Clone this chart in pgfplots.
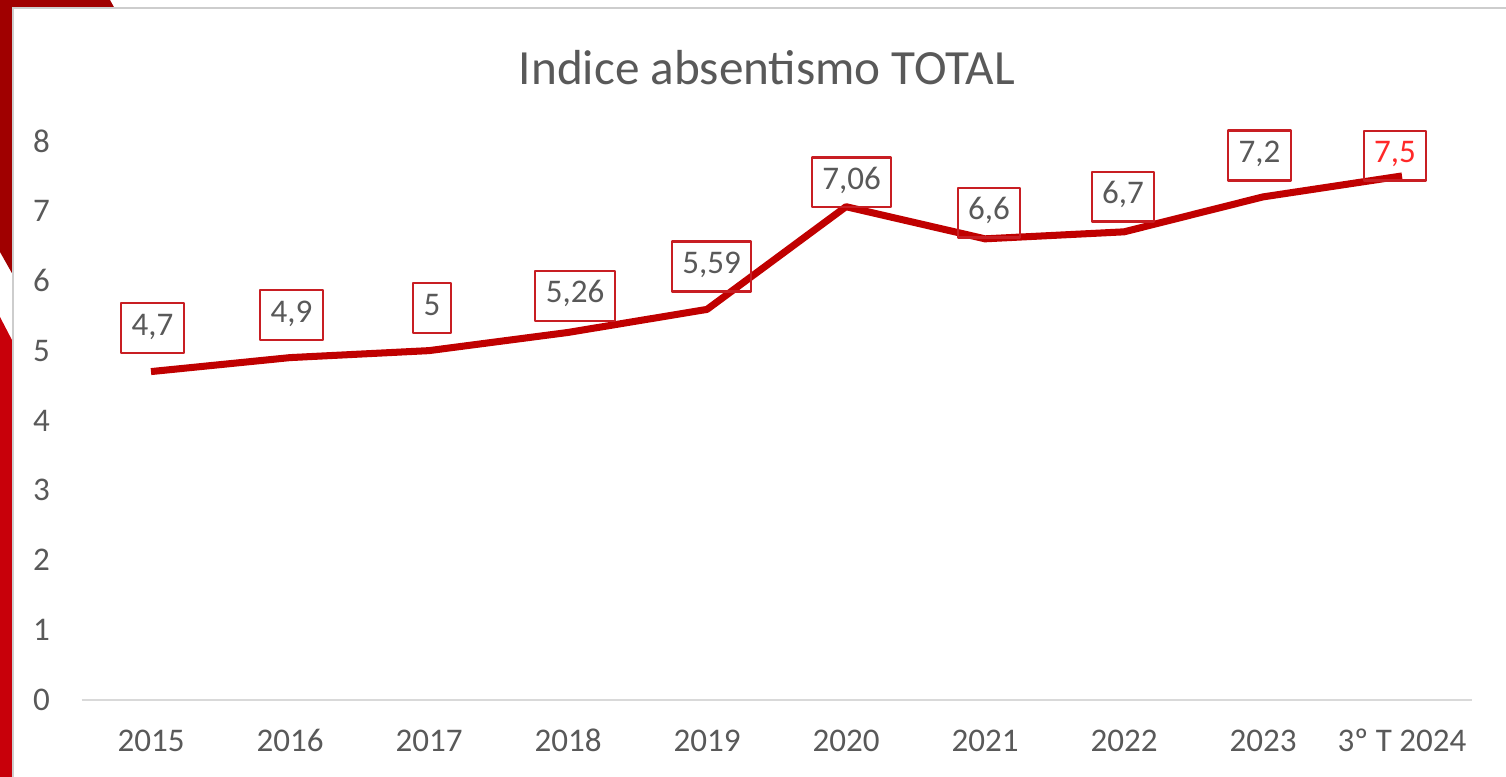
\documentclass[border=0pt]{standalone}
\usepackage{fontspec}
\setmainfont{Carlito}
\usepackage{pgfplots}
\usepackage{pgfplotstable}
\pgfplotsset{compat=1.18}

\definecolor{slidedark}{RGB}{160,0,0}
\definecolor{slidered}{RGB}{200,0,10}
\definecolor{cardgray}{RGB}{205,205,205}
\definecolor{axisgray}{RGB}{217,217,217}
\definecolor{labgray}{RGB}{89,89,89}
\definecolor{labred}{RGB}{255,40,40}
\definecolor{linered}{RGB}{192,0,0}
\definecolor{boxred}{RGB}{200,30,35}

% label offsets (cm) are relative to each point
\pgfplotstableread{
x y lab dx dy
0 4.70 4,7 0.015 0.436
1 4.90 4,9 0.015 0.426
2 5.00 5 0.03 0.426
3 5.26 5,26 0.07 0.365
4 5.59 5,59 0.045 0.429
5 7.06 7,06 0.055 0.242
6 6.60 6,6 0.04 0.263
7 6.70 6,7 -0.01 0.353
8 7.20 7,2 -0.035 0.414
9 7.50 {\textcolor{labred}{7,5}} -0.07 0.204
}\datatable

\begin{document}
\begin{tikzpicture}
\path[use as bounding box] (0,0) rectangle (15.06,7.77);
% slide background
\fill[slidedark] (0,7.77) -- (1.10,7.77) -- (1.15,7.68) -- (0.13,7.68) -- (0.13,5.02) -- (0,5.25) -- cycle;
\fill[slidered] (0,4.60) -- (0.13,4.35) -- (0.13,0) -- (0,0) -- cycle;
\fill[white] (0.13,0) rectangle (15.06,7.69);
\draw[cardgray, line width=0.6pt] (0.13,0) -- (0.13,7.69) -- (15.06,7.69);

\node[anchor=base, font=\fontsize{14}{16}\selectfont, text=labgray] at (7.67,6.92) {Indice absentismo TOTAL};

\begin{axis}[
  at={(0.815cm,0.77cm)}, anchor=south west,
  scale only axis, width=13.9cm, height=5.59cm,
  xmin=-0.5, xmax=9.5, ymin=0, ymax=8,
  xtick={0,...,9},
  xticklabels={2015,2016,2017,2018,2019,2020,2021,2022,2023,3º T 2024},
  ytick={0,...,8},
  axis x line*=bottom, axis y line*=left,
  x axis line style={draw=axisgray, line width=0.8pt, -},
  y axis line style={draw=none},
  major tick length=0pt,
  tick label style={font=\fontsize{9.4}{11}\selectfont, text=labgray},
  /pgf/number format/assume math mode=true,
  xticklabel style={anchor=north, inner sep=0pt, yshift=-0.3cm, text height=6pt},
  yticklabel style={anchor=east, inner sep=0pt, xshift=-0.31cm},
  clip=false,
]
\addplot[linered, line width=2pt, line join=round,
  point meta=explicit symbolic,
  visualization depends on={\thisrow{dx}\as\lx},
  visualization depends on={\thisrow{dy}\as\ly},
  nodes near coords,
  nodes near coords style={anchor=center, xshift=\lx cm, yshift=\ly cm,
    draw=boxred, line width=0.6pt, text=labgray,
    font=\fontsize{9.4}{11}\selectfont,
    inner xsep=3pt, inner ysep=3.1pt, text height=6pt, text depth=2pt},
] table[x=x, y=y, meta=lab] {\datatable};
\end{axis}
\end{tikzpicture}
\end{document}
